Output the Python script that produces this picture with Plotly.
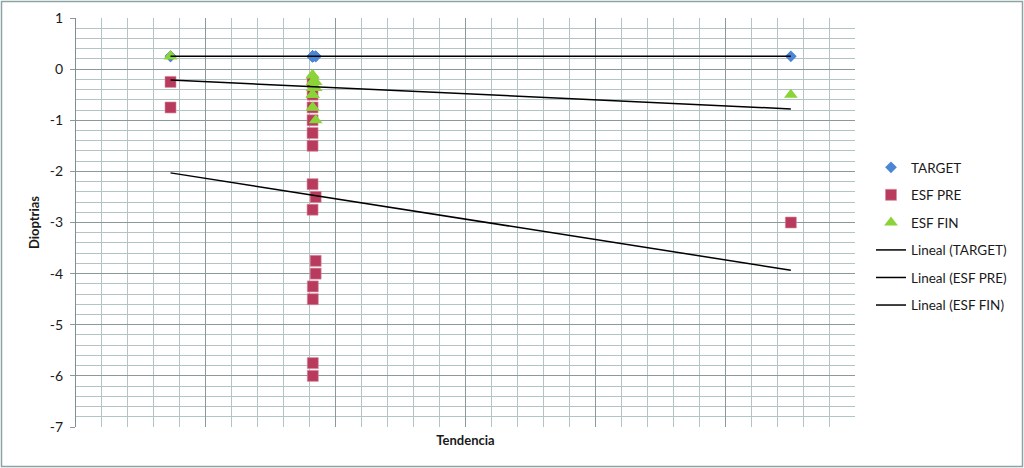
import numpy as np
import plotly.graph_objects as go

# one entry per eye: x position on the (unlabelled) horizontal axis
x_pos = [3.64, 3.64,
         9.11, 9.11, 9.11, 9.11, 9.11, 9.11, 9.11, 9.23, 9.11, 9.23, 9.23, 9.12, 9.12, 9.12, 9.12,
         27.53]
target = [0.25] * 18
esf_pre = [-0.25, -0.75,
           -0.25, -0.5, -0.75, -1.0, -1.25, -1.5, -2.25, -2.5, -2.75, -3.75, -4.0, -4.25, -4.5, -5.75, -6.0,
           -3.0]
esf_fin = [0.25, 0.25,
           -0.12, -0.12, -0.25, -0.5, -0.37, -0.75, -0.12, -0.25, -0.5, -0.37, -1.0, -0.25, -0.5, -0.75, -0.5,
           -0.5]

y_ticks = [1, 0, -1, -2, -3, -4, -5, -6, -7]

FONT = "Lato"
W, H = 1024, 468
L, R, T, B = 76, 169, 18, 41
pw, ph = W - L - R, H - T - B

series = [
    ("TARGET", target, dict(symbol="diamond", size=9, color="#4a86d4")),
    ("ESF PRE", esf_pre, dict(symbol="square", size=11, color="#b83b5e",
                              line=dict(color="#d98aa0", width=0.6))),
    ("ESF FIN", esf_fin, dict(symbol="triangle-up", size=12, color="#8ad43a")),
]

fig = go.Figure()

for name, vals, marker in series:
    fig.add_trace(go.Scatter(
        x=x_pos, y=vals, mode="markers", name=name, marker=marker,
        legendgroup=name,
    ))

# linear trendlines (least squares) over each series' x range
for name, vals, _ in series:
    slope, icpt = np.polyfit(x_pos, vals, 1)
    xs = np.array([min(x_pos), max(x_pos)])
    fig.add_trace(go.Scatter(
        x=xs, y=slope * xs + icpt, mode="lines", name=f"Lineal ({name})",
        line=dict(color="black", width=1.5), legendgroup=f"Lineal ({name})",
    ))

# outer chart border
fig.add_shape(
    type="rect", xref="paper", yref="paper",
    x0=(1.5 - L) / pw, x1=(W - 1.5 - L) / pw,
    y0=(H - B - (H - 1.5)) / ph, y1=(H - B - 1.5) / ph,
    line=dict(color="#8ea2a2", width=1.5), layer="below",
)

fig.update_layout(
    width=W, height=H,
    margin=dict(l=L, r=R, t=T, b=B, autoexpand=False),
    paper_bgcolor="white", plot_bgcolor="white",
    font=dict(family=FONT, size=13, color="#1a1a1a"),
    showlegend=True,
    legend=dict(
        x=(871 - L) / pw, y=(H - B - 152) / ph, xanchor="left", yanchor="top",
        traceorder="grouped", tracegroupgap=7,
        font=dict(family=FONT, size=13.5, color="#1a1a1a"),
        bgcolor="rgba(0,0,0,0)",
    ),
    xaxis=dict(
        range=[0, 30], dtick=5, showticklabels=False, ticks="", automargin=False,
        showgrid=True, gridcolor="#8a9a9a", gridwidth=1,
        minor=dict(dtick=1, showgrid=True, gridcolor="#b3c4c4", gridwidth=1),
        zeroline=False, showline=False,
        title=dict(text="<b>Tendencia</b>", font=dict(family=FONT, size=13), standoff=8),
    ),
    yaxis=dict(
        range=[-7, 1], tickvals=y_ticks, ticktext=[str(v) for v in y_ticks],
        ticks="outside", ticklen=5, tickcolor="#8a9a9a",
        automargin=False,
        showgrid=True, gridcolor="#8a9a9a", gridwidth=1,
        minor=dict(dtick=0.2, showgrid=True, gridcolor="#b3c4c4", gridwidth=1),
        zeroline=False, showline=True, linecolor="#7f8f8f", linewidth=1,
        tickfont=dict(family=FONT, size=14, color="#1a1a1a"),
        ticklabelstandoff=4,
        title=dict(text="<b>Dioptrias</b>", font=dict(family=FONT, size=13), standoff=7),
    ),
)

# the page's default body margin would offset the chart by 8px
fig.write_html("out.html", config={"displayModeBar": False},
               post_script="document.body.style.margin = '0';")
